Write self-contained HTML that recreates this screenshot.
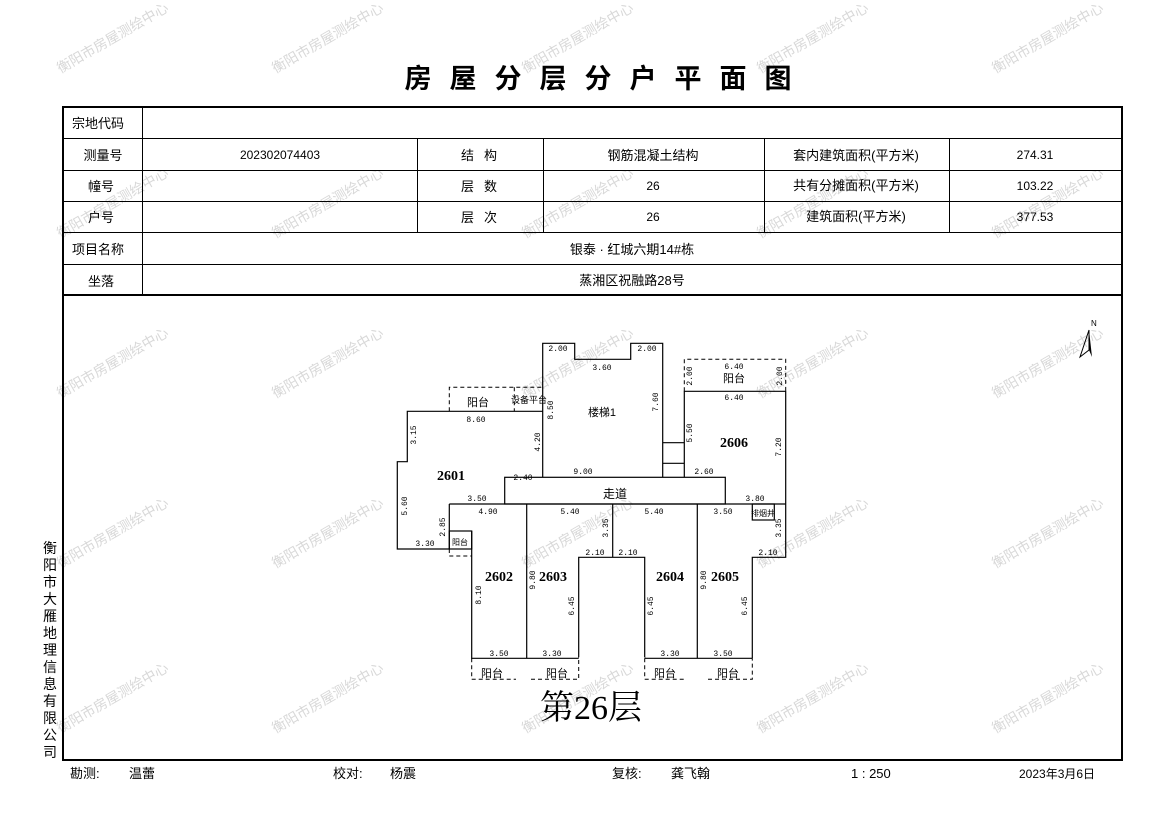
<!DOCTYPE html>
<html><head><meta charset="utf-8"><style>
body{margin:0;background:#fff;}
svg{display:block;font-family:"Liberation Sans","Noto Sans CJK SC",sans-serif;}
</style></head><body>
<svg width="1169" height="827" viewBox="0 0 1169 827" xmlns="http://www.w3.org/2000/svg">
<g fill="#d8d8d8" font-size="14" font-family="Liberation Sans, Noto Sans CJK SC, sans-serif" text-anchor="middle">
<g id="wm">
<text transform="translate(115,42) rotate(-30)">衡阳市房屋测绘中心</text>
<text transform="translate(330,42) rotate(-30)">衡阳市房屋测绘中心</text>
<text transform="translate(580,42) rotate(-30)">衡阳市房屋测绘中心</text>
<text transform="translate(815,42) rotate(-30)">衡阳市房屋测绘中心</text>
<text transform="translate(1050,42) rotate(-30)">衡阳市房屋测绘中心</text>
</g>
<use href="#wm" y="165"/><use href="#wm" y="325"/><use href="#wm" y="495"/><use href="#wm" y="660"/>
</g>
<text x="607" y="88" font-size="27" font-weight="bold" text-anchor="middle" letter-spacing="18" font-family="Liberation Sans, Noto Sans CJK SC, sans-serif">房屋分层分户平面图</text>
<g stroke="#000" fill="none">
<rect x="63" y="107" width="1059" height="653" stroke-width="2"/>
<line x1="63" y1="295" x2="1122" y2="295" stroke-width="2"/>
<g stroke-width="1">
<line x1="63" y1="138.5" x2="1122" y2="138.5"/>
<line x1="63" y1="170.5" x2="1122" y2="170.5"/>
<line x1="63" y1="201.5" x2="1122" y2="201.5"/>
<line x1="63" y1="232.5" x2="1122" y2="232.5"/>
<line x1="63" y1="264.5" x2="1122" y2="264.5"/>
<line x1="142.5" y1="107" x2="142.5" y2="295"/>
<line x1="417.5" y1="138" x2="417.5" y2="232"/>
<line x1="543.5" y1="138" x2="543.5" y2="232"/>
<line x1="764.5" y1="138" x2="764.5" y2="232"/>
<line x1="949.5" y1="138" x2="949.5" y2="232"/>
</g></g>
<g font-size="13" text-anchor="middle" fill="#000">
<text x="98" y="128">宗地代码</text>
<text x="103" y="160">测量号</text>
<text x="101" y="191">幢号</text>
<text x="101" y="222">户号</text>
<text x="98" y="254">项目名称</text>
<text x="101" y="286">坐落</text>
<text x="280" y="159" font-size="12">202302074403</text>
<text x="484" y="160" letter-spacing="10">结构</text>
<text x="484" y="191" letter-spacing="10">层数</text>
<text x="484" y="222" letter-spacing="10">层次</text>
<text x="653" y="160">钢筋混凝土结构</text>
<text x="653" y="190" font-size="12">26</text>
<text x="653" y="221" font-size="12">26</text>
<text x="856" y="160">套内建筑面积(平方米)</text>
<text x="856" y="190">共有分摊面积(平方米)</text>
<text x="856" y="221">建筑面积(平方米)</text>
<text x="1035" y="159" font-size="12">274.31</text>
<text x="1035" y="190" font-size="12">103.22</text>
<text x="1035" y="221" font-size="12">377.53</text>
<text x="632" y="254">银泰 · 红城六期14#栋</text>
<text x="632" y="285">蒸湘区祝融路28号</text>
</g>
<g font-size="14" text-anchor="middle">
<text x="50" y="553">衡</text><text x="50" y="570">阳</text><text x="50" y="587">市</text><text x="50" y="604">大</text><text x="50" y="621">雁</text><text x="50" y="638">地</text><text x="50" y="655">理</text><text x="50" y="672">信</text><text x="50" y="689">息</text><text x="50" y="706">有</text><text x="50" y="723">限</text><text x="50" y="740">公</text><text x="50" y="757">司</text>
</g>
<g><polygon points="1089,330 1080,357 1089,350" fill="none" stroke="#000"/><polygon points="1089,330 1092,357 1089,350" fill="#000"/><text x="1091" y="326" font-size="8">N</text></g>
<g stroke="#000" fill="none" stroke-width="1.2">
<polyline points="542.7,477.3 542.7,343.3 574.7,343.3 574.7,359.3 630.7,359.3 630.7,343.3 662.7,343.3 662.7,477.3"/>
<rect x="504.7" y="477.3" width="220.6" height="26.7"/>
<polyline points="542.7,411.3 407.3,411.3 407.3,461.7 397.3,461.7 397.3,549 449.3,549 449.3,504"/>
<line x1="449.3" y1="504" x2="785.7" y2="504"/>
<rect x="449.3" y="531" width="22.4" height="18"/>
<polyline points="684.3,477.3 684.3,391.3 785.7,391.3 785.7,557.3 752.3,557.3 752.3,658.3"/>
<polyline points="662.7,442.7 684.3,442.7"/><polyline points="662.7,463.3 684.3,463.3"/>
<rect x="752.3" y="504" width="22" height="16"/>
<polyline points="471.7,531 471.7,658.3 752.3,658.3"/>
<line x1="526.7" y1="504" x2="526.7" y2="658.3"/>
<polyline points="578.7,658.3 578.7,557.3 644.7,557.3 644.7,658.3"/>
<line x1="612.7" y1="504" x2="612.7" y2="557.3"/>
<line x1="697.3" y1="504" x2="697.3" y2="658.3"/>
<line x1="578.7" y1="658.3" x2="644.7" y2="658.3" stroke="#fff" stroke-width="2"/>
</g>
<g stroke="#000" fill="none" stroke-width="1" stroke-dasharray="4,3">
<polyline points="449.3,411.3 449.3,387.3 542.7,387.3"/>
<line x1="514.3" y1="387.3" x2="514.3" y2="411.3"/>
<polyline points="684.3,391.3 684.3,359.3 785.7,359.3 785.7,391.3"/>
<polyline points="449.3,549 449.3,556 471.7,556"/>
<polyline points="471.7,658.3 471.7,679.3 516,679.3"/>
<polyline points="531,679.3 578.7,679.3 578.7,658.3"/>
<polyline points="644.7,658.3 644.7,679.3 685,679.3"/>
<polyline points="708,679.3 752.3,679.3 752.3,658.3"/>
</g>
<g font-size="8" text-anchor="middle" fill="#000" font-family="Liberation Mono, monospace">
<text x="558" y="351">2.00</text><text x="647" y="351">2.00</text>
<text x="602" y="370">3.60</text><text x="734" y="369">6.40</text><text x="734" y="400">6.40</text>
<text x="476" y="422">8.60</text>
<text x="523" y="480">2.40</text><text x="583" y="474">9.00</text><text x="704" y="474">2.60</text>
<text x="477" y="501">3.50</text><text x="755" y="501">3.80</text>
<text x="488" y="514">4.90</text><text x="570" y="514">5.40</text><text x="654" y="514">5.40</text><text x="723" y="514">3.50</text>
<text x="425" y="546">3.30</text>
<text x="595" y="555">2.10</text><text x="628" y="555">2.10</text><text x="768" y="555">2.10</text>
<text x="499" y="656">3.50</text><text x="552" y="656">3.30</text><text x="670" y="656">3.30</text><text x="723" y="656">3.50</text>
<text transform="translate(416,435) rotate(-90)">3.15</text>
<text transform="translate(407,506) rotate(-90)">5.60</text>
<text transform="translate(445,527) rotate(-90)">2.85</text>
<text transform="translate(553,410) rotate(-90)">8.50</text>
<text transform="translate(540,442) rotate(-90)">4.20</text>
<text transform="translate(658,402) rotate(-90)">7.60</text>
<text transform="translate(692,433) rotate(-90)">5.50</text>
<text transform="translate(781,447) rotate(-90)">7.20</text>
<text transform="translate(608,528) rotate(-90)">3.35</text>
<text transform="translate(781,528) rotate(-90)">3.35</text>
<text transform="translate(481,595) rotate(-90)">8.10</text>
<text transform="translate(535,580) rotate(-90)">9.80</text>
<text transform="translate(574,606) rotate(-90)">6.45</text>
<text transform="translate(653,606) rotate(-90)">6.45</text>
<text transform="translate(706,580) rotate(-90)">9.80</text>
<text transform="translate(747,606) rotate(-90)">6.45</text>
<text transform="translate(692,376) rotate(-90)">2.00</text>
<text transform="translate(782,376) rotate(-90)">2.00</text>
</g>
<g font-size="11" text-anchor="middle" fill="#000">
<text x="478" y="406">阳台</text><text x="529" y="403" font-size="9">设备平台</text>
<text x="734" y="382">阳台</text>
<text x="602" y="416">楼梯1</text>
<text x="615" y="498" font-size="12">走道</text>
<text x="460" y="545" font-size="8">阳台</text>
<text x="763" y="516" font-size="8">排烟井</text>
<text x="492" y="677">阳台</text><text x="557" y="677">阳台</text><text x="665" y="677">阳台</text><text x="728" y="677">阳台</text>
</g>
<g font-size="14" font-weight="bold" text-anchor="middle" font-family="Liberation Serif, serif">
<text x="451" y="480">2601</text><text x="734" y="447">2606</text>
<text x="499" y="581">2602</text><text x="553" y="581">2603</text><text x="670" y="581">2604</text><text x="725" y="581">2605</text>
</g>
<text x="591" y="719" font-size="34" text-anchor="middle" font-family="Liberation Serif, Noto Serif CJK SC, serif">第26层</text>
<g font-size="13" fill="#000">
<text x="70" y="778">勘测:</text><text x="129" y="778">温蕾</text>
<text x="333" y="778">校对:</text><text x="390" y="778">杨震</text>
<text x="612" y="778">复核:</text><text x="671" y="778">龚飞翰</text>
<text x="851" y="778">1 : 250</text>
<text x="1019" y="778" font-size="12">2023年3月6日</text>
</g>
</svg>
</body></html>
